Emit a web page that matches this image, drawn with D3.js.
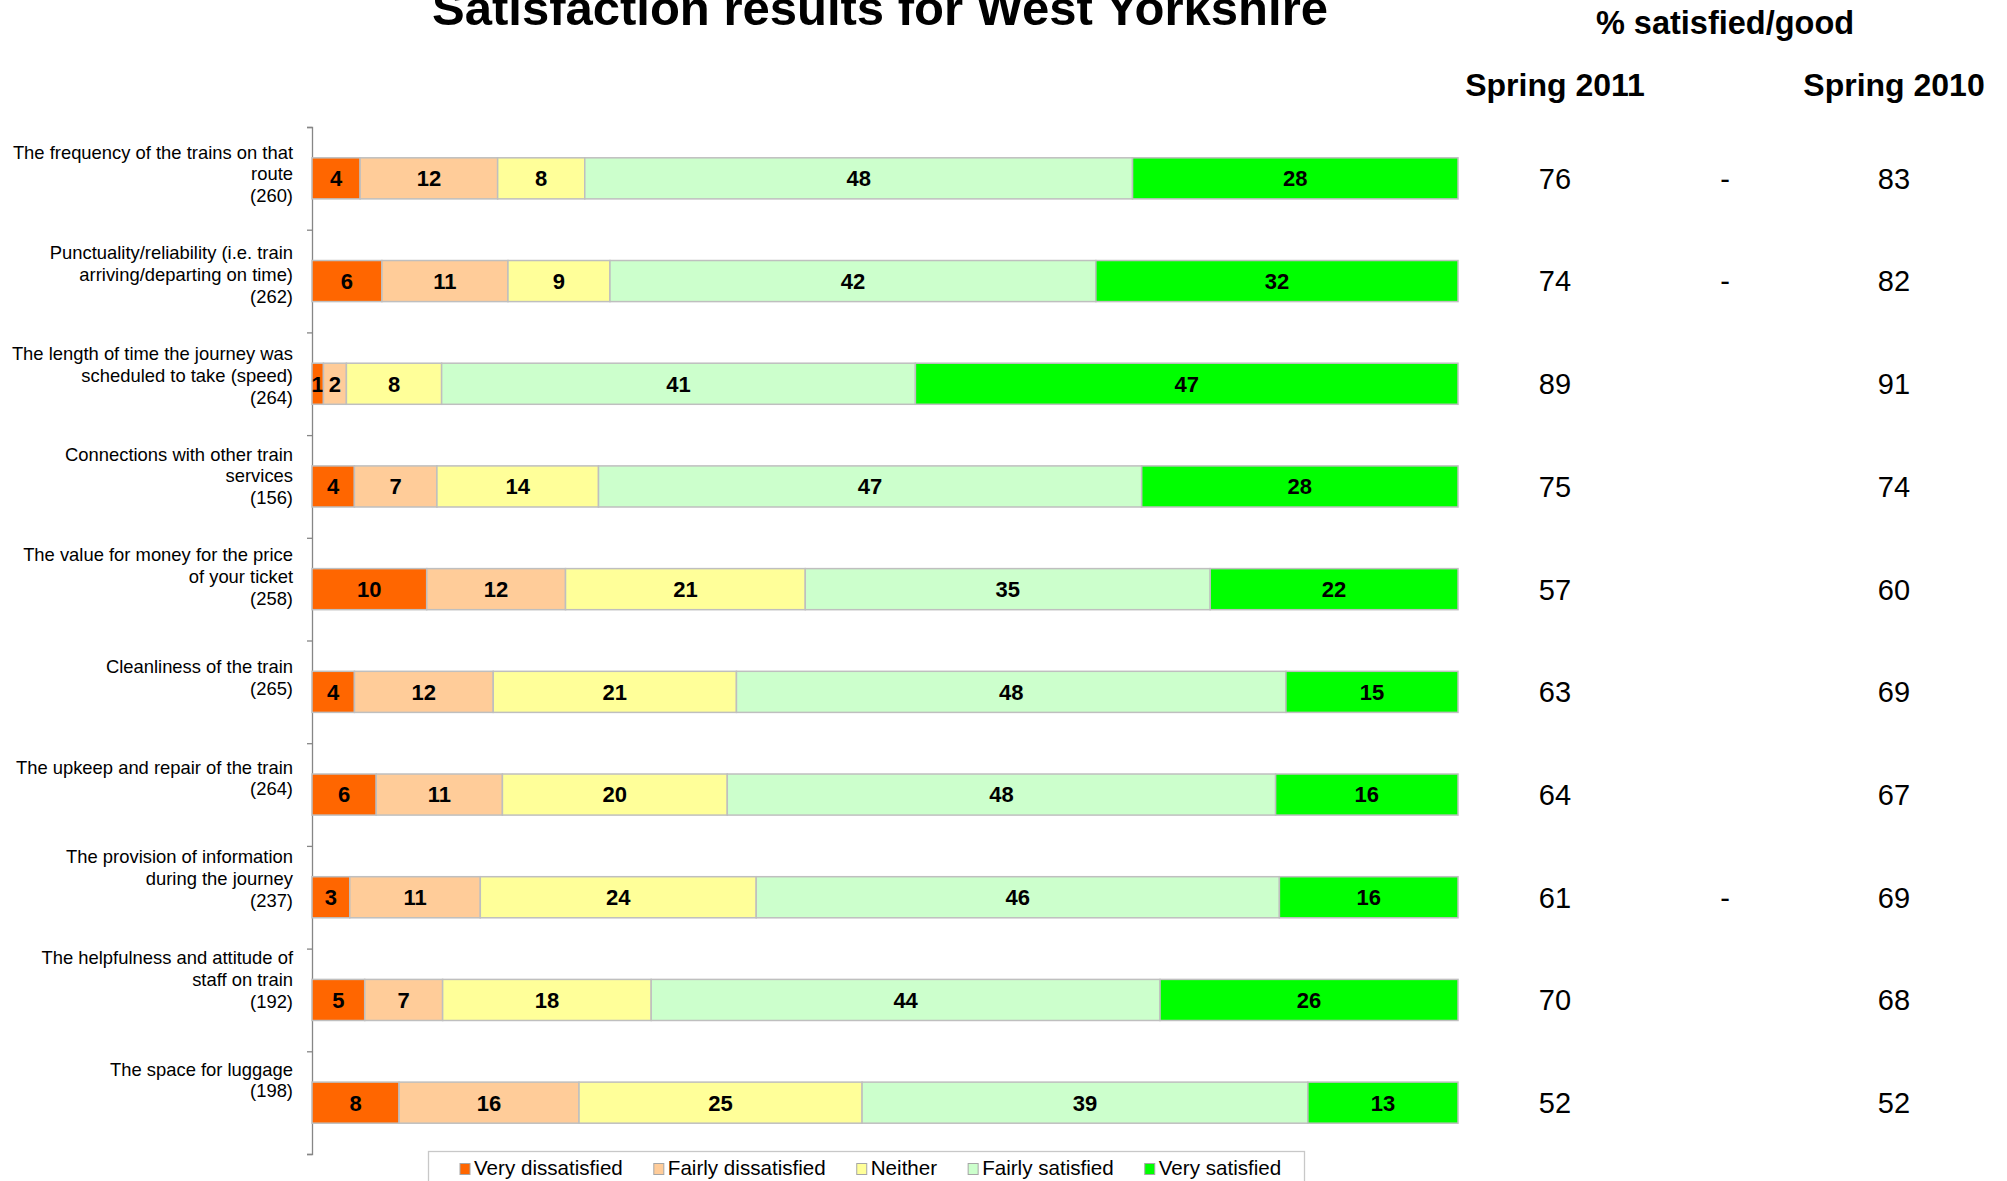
<!DOCTYPE html>
<html>
<head>
<meta charset="utf-8">
<script src="https://cdn.jsdelivr.net/npm/d3@7"></script>
<style>
  body { margin: 0; background: #fff; }
  svg { display: block; font-family: "Liberation Sans", Arial, sans-serif; }
</style>
</head>
<body>
<svg class="root"></svg>
<script>
// category labels, one entry per line of text
var labelLines = [
  ["The frequency of the trains on that", "route", "(260)"],
  ["Punctuality/reliability (i.e. train", "arriving/departing on time)", "(262)"],
  ["The length of time the journey was", "scheduled to take (speed)", "(264)"],
  ["Connections with other train", "services", "(156)"],
  ["The value for money for the price", "of your ticket", "(258)"],
  ["Cleanliness of the train", "(265)"],
  ["The upkeep and repair of the train", "(264)"],
  ["The provision of information", "during the journey", "(237)"],
  ["The helpfulness and attitude of", "staff on train", "(192)"],
  ["The space for luggage", "(198)"]
];

var seriesNames = ["Very dissatisfied", "Fairly dissatisfied", "Neither", "Fairly satisfied", "Very satisfied"];
var seriesColors = ["#ff6600", "#ffcc99", "#ffff99", "#ccffcc", "#00ff00"];

// % per answer (bar lengths, labels are these rounded)
var veryDissatisfied   = [4.2, 6.1, 1.0, 3.7, 10.0, 3.7, 5.6, 3.3, 4.6, 7.6];
var fairlyDissatisfied = [12.0, 11.0, 2.0, 7.2, 12.1, 12.1, 11.0, 11.4, 6.8, 15.7];
var neither            = [7.6, 8.9, 8.3, 14.1, 20.9, 21.2, 19.6, 24.1, 18.2, 24.7];
var fairlySatisfied    = [47.8, 42.4, 41.3, 47.4, 35.3, 47.9, 47.8, 45.7, 44.4, 38.9];
var verySatisfied      = [28.4, 31.6, 47.3, 27.6, 21.6, 15.0, 15.9, 15.6, 26.0, 13.1];

var spring2011 = [76, 74, 89, 75, 57, 63, 64, 61, 70, 52];
var spring2010 = [83, 82, 91, 74, 60, 69, 67, 69, 68, 52];
var changeMark = ["-", "-", "", "", "", "", "", "-", "", ""];

var W = 2007, H = 1181;
var svg = d3.select(".root").attr("width", W).attr("height", H);

var seriesValues = [veryDissatisfied, fairlyDissatisfied, neither, fairlySatisfied, verySatisfied];
var rows = labelLines.map((l, i) => {
  var r = { idx: i };
  seriesNames.forEach((s, j) => { r[s] = seriesValues[j][i]; });
  return r;
});

var stacked = d3.stack().keys(seriesNames).offset(d3.stackOffsetExpand)(rows);

var x = d3.scaleLinear().domain([0, 1]).range([312, 1458]);
var y = d3.scaleBand().domain(d3.range(rows.length)).range([127, 1154])
    .paddingInner(0.6).paddingOuter(0.3);
var yTicks = d3.scaleLinear().domain([0, rows.length]).range([127, 1154]);
// excel puts the category text on a slightly tighter spacing than the bars
var yLabel = d3.scalePoint().domain(d3.range(rows.length)).range([174, 1080]);

// title + column headers
svg.append("text")
  .attr("x", 880).attr("y", 25)
  .attr("text-anchor", "middle")
  .style("font-size", "49px").style("font-weight", "bold")
  .text("Satisfaction results for West Yorkshire");

svg.append("text")
  .attr("x", 1725).attr("y", 34)
  .attr("text-anchor", "middle")
  .style("font-size", "32.5px").style("font-weight", "bold")
  .text("% satisfied/good");

[["Spring 2011", 1555], ["Spring 2010", 1894]].forEach((h) => {
  svg.append("text")
    .attr("x", h[1]).attr("y", 96)
    .attr("text-anchor", "middle")
    .style("font-size", "32px").style("font-weight", "bold")
    .text(h[0]);
});

// axis
var axis = svg.append("g")
  .attr("transform", "translate(312,0)")
  .call(d3.axisLeft(yTicks).tickValues(d3.range(rows.length + 1)).tickSize(5).tickFormat(""));
axis.selectAll("path, line").attr("stroke", "#868686").attr("stroke-width", 1.3);

// bars
var layers = svg.selectAll(".layer")
    .data(stacked)
  .enter().append("g")
    .attr("class", "layer")
    .attr("fill", (d, i) => seriesColors[i]);

layers.selectAll("rect")
    .data((d) => d)
  .enter().append("rect")
    .attr("x", (d) => x(d[0]))
    .attr("y", (d) => y(d.data.idx))
    .attr("width", (d) => x(d[1]) - x(d[0]))
    .attr("height", y.bandwidth())
    .attr("stroke", "#bfbfbf")
    .attr("stroke-width", 1.5);

layers.each(function(s) {
  d3.select(this).selectAll("text")
      .data(s)
    .enter().append("text")
      .attr("x", (d) => (x(d[0]) + x(d[1])) / 2)
      .attr("y", (d) => y(d.data.idx) + y.bandwidth() / 2)
      .attr("dy", "0.36em")
      .attr("text-anchor", "middle")
      .attr("fill", "#000")
      .style("font-size", "22px").style("font-weight", "bold")
      .text((d) => Math.round(d.data[s.key]));
});

// category labels
var lineH = 21.8;
labelLines.forEach((lines, i) => {
  var t = svg.append("text")
    .attr("text-anchor", "end")
    .style("font-size", "18.4px");
  var top = yLabel(i) - (lines.length - 1) * lineH / 2;
  lines.forEach((ln, k) => {
    t.append("tspan")
      .attr("x", 293)
      .attr("y", top + k * lineH)
      .attr("dy", "0.35em")
      .text(ln);
  });
});

// % satisfied columns
var cols = [[spring2011, 1555], [changeMark, 1725], [spring2010, 1894]];
cols.forEach((c) => {
  svg.append("g").selectAll("text")
      .data(c[0])
    .enter().append("text")
      .attr("x", c[1])
      .attr("y", (d, i) => y(i) + y.bandwidth() / 2)
      .attr("dy", "0.36em")
      .attr("text-anchor", "middle")
      .style("font-size", "29px")
      .text((d) => d);
});

// legend
var legend = svg.append("g");
legend.append("rect")
  .attr("x", 428.5).attr("y", 1151.5)
  .attr("width", 876).attr("height", 45)
  .attr("fill", "#fff").attr("stroke", "#c8c8c8").attr("stroke-width", 1.3);

var lx = 460;
seriesNames.forEach((s, i) => {
  legend.append("rect")
    .attr("x", lx).attr("y", 1163.5)
    .attr("width", 10).attr("height", 11)
    .attr("fill", seriesColors[i])
    .attr("stroke", "#a6a6a6").attr("stroke-width", 1);
  var t = legend.append("text")
    .attr("x", lx + 14).attr("y", 1175)
    .style("font-size", "20.6px")
    .text(s);
  lx += 14 + t.node().getComputedTextLength() + 31;
});
</script>
</body>
</html>
